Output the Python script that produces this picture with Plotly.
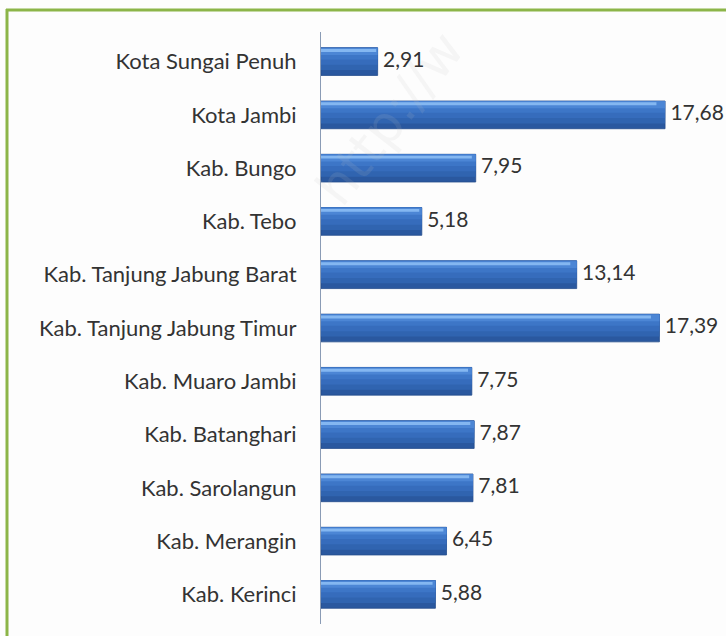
import plotly.graph_objects as go

categories = ["Kota Sungai Penuh", "Kota Jambi", "Kab. Bungo", "Kab. Tebo",
              "Kab. Tanjung Jabung Barat", "Kab. Tanjung Jabung Timur",
              "Kab. Muaro Jambi", "Kab. Batanghari", "Kab. Sarolangun",
              "Kab. Merangin", "Kab. Kerinci"]
values = [2.91, 17.68, 7.95, 5.18, 13.14, 17.39, 7.75, 7.87, 7.81, 6.45, 5.88]
value_labels = [f"{v:.2f}".replace(".", ",") for v in values]

W, H = 726, 636
L, R, T, B = 321, 0, 32, 12
pw = W - L - R
ph = H - T - B
px_per_unit = 19.46
xmax = pw / px_per_unit

def px_x(p):
    return (p - L) / pw

def px_y(p):
    return (H - B - p) / ph

font = "Lato"
txt_color = "#333333"

fig = go.Figure()
# shading layers (bottom = darkest, stacked toward the top edge)
layers = [
    (0.52, -0.26, "#2a589f", dict(color="#244c8c", width=0.8), 1.0),
    (0.42, -0.26, "#3064b0", dict(width=0), 1.0),
    (0.32, -0.26, "#366cbc", dict(width=0), 1.0),
    (0.22, -0.26, "#3d76c7", dict(width=0), 1.0),
    (0.13, -0.255, "#4c86d5", dict(width=0), 1.0),
    (0.055, -0.235, "#84b7f1", dict(width=0), 0.975),
]
for w, off, col, ln, k in layers:
    fig.add_trace(go.Bar(y=categories, x=[v * k for v in values], orientation="h",
                         width=w, offset=off,
                         marker=dict(color=col, line=ln),
                         hoverinfo="skip", showlegend=False))
# value labels
fig.add_trace(go.Scatter(y=categories, x=values, mode="text", text=[" " + t for t in value_labels],
                         textposition="middle right",
                         textfont=dict(family=font, size=21, color=txt_color),
                         cliponaxis=False, hoverinfo="skip", showlegend=False))

fig.update_layout(
    width=W, height=H,
    margin=dict(l=L, r=R, t=T, b=B, autoexpand=False),
    paper_bgcolor="#fdfdfd", plot_bgcolor="rgba(0,0,0,0)",
    barmode="overlay", bargap=0.5,
    xaxis=dict(range=[0, xmax], visible=False, fixedrange=True),
    yaxis=dict(categoryorder="array", categoryarray=categories, autorange="reversed",
               showgrid=False, showline=True, linecolor="#8a9bb5", linewidth=1,
               ticks="", ticklabelstandoff=19, fixedrange=True,
               tickfont=dict(family=font, size=22, color=txt_color)),
    shapes=[
        dict(type="line", xref="paper", yref="paper",
             x0=px_x(7), x1=px_x(7), y0=px_y(640), y1=px_y(9),
             line=dict(color="#8cb548", width=3)),
        dict(type="line", xref="paper", yref="paper",
             x0=px_x(6), x1=px_x(730), y0=px_y(10), y1=px_y(10),
             line=dict(color="#8cb548", width=3)),
    ],
    annotations=[dict(text="http://w", xref="paper", yref="paper",
                      x=px_x(390), y=px_y(118), xanchor="center", yanchor="middle",
                      showarrow=False, textangle=-52,
                      font=dict(family="DejaVu Sans", size=52, color="rgba(190,190,190,0.13)"))],
)

fig.write_html("out.html", config={"displayModeBar": False},
               post_script="document.body.style.margin='0';document.body.style.overflow='hidden';")
